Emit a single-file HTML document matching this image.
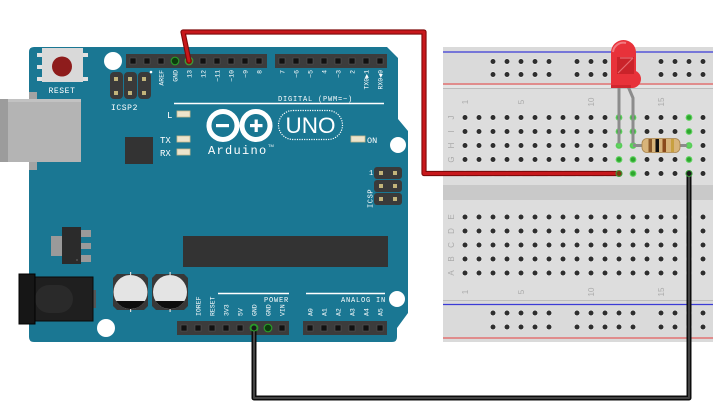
<!DOCTYPE html>
<html><head><meta charset="utf-8">
<style>html,body{margin:0;padding:0;background:#fff;}svg{display:block}</style>
</head><body>
<svg width="713" height="420" viewBox="0 0 713 420" xmlns="http://www.w3.org/2000/svg">
<defs>
<pattern id="hT" x="458" y="110.5" width="14" height="14" patternUnits="userSpaceOnUse"><circle cx="7" cy="7" r="3.1" fill="#ececec"/><circle cx="7" cy="7" r="2.5" fill="#2e2e2e"/></pattern>
<pattern id="hB" x="458" y="210" width="14" height="14" patternUnits="userSpaceOnUse"><circle cx="7" cy="7" r="3.1" fill="#ececec"/><circle cx="7" cy="7" r="2.5" fill="#2e2e2e"/></pattern>
<pattern id="rT" x="486" y="55" width="14" height="13" patternUnits="userSpaceOnUse"><circle cx="7" cy="6.5" r="3.1" fill="#ececec"/><circle cx="7" cy="6.5" r="2.5" fill="#2e2e2e"/></pattern>
<pattern id="rB" x="486" y="306" width="14" height="14" patternUnits="userSpaceOnUse"><circle cx="7" cy="7" r="3.1" fill="#ececec"/><circle cx="7" cy="7" r="2.5" fill="#2e2e2e"/></pattern>
</defs>

<!-- ================= BREADBOARD ================= -->
<rect x="443" y="47" width="270" height="295" fill="#dadada"/>
<line x1="443" y1="52" x2="713" y2="52" stroke="#3b3bd6" stroke-width="1.3"/>
<line x1="443" y1="84" x2="713" y2="84" stroke="#e27272" stroke-width="1.6"/>
<rect x="443" y="85" width="270" height="3" fill="#e4e4e4"/>
<line x1="443" y1="88.5" x2="713" y2="88.5" stroke="#bcbcbc" stroke-width="1"/>
<rect x="443" y="89" width="270" height="96" fill="#dddddd"/>
<rect x="443" y="185" width="270" height="15" fill="#c9c9c9"/>
<rect x="443" y="200" width="270" height="100" fill="#dddddd"/>
<line x1="443" y1="300.5" x2="713" y2="300.5" stroke="#bcbcbc" stroke-width="1"/>
<line x1="443" y1="304.5" x2="713" y2="304.5" stroke="#3b3bd6" stroke-width="1.3"/>
<line x1="443" y1="338" x2="713" y2="338" stroke="#e27272" stroke-width="1.6"/>

<!-- rails holes -->
<rect x="486" y="55" width="70" height="26" fill="url(#rT)"/>
<rect x="570" y="55" width="70" height="26" fill="url(#rT)"/>
<rect x="654" y="55" width="59" height="26" fill="url(#rT)"/>
<rect x="486" y="306" width="70" height="28" fill="url(#rB)"/>
<rect x="570" y="306" width="70" height="28" fill="url(#rB)"/>
<rect x="654" y="306" width="59" height="28" fill="url(#rB)"/>
<!-- main holes -->
<rect x="458" y="110.5" width="252" height="70" fill="url(#hT)"/>
<rect x="458" y="210" width="252" height="70" fill="url(#hB)"/>

<!-- breadboard labels -->
<g font-family="Liberation Sans, sans-serif" font-size="8" fill="#ababab" text-anchor="middle">
<text transform="translate(468,102) rotate(-90)">1</text>
<text transform="translate(524,102) rotate(-90)">5</text>
<text transform="translate(594,102) rotate(-90)">10</text>
<text transform="translate(664,102) rotate(-90)">15</text>
<text transform="translate(468,292) rotate(-90)">1</text>
<text transform="translate(524,292) rotate(-90)">5</text>
<text transform="translate(594,292) rotate(-90)">10</text>
<text transform="translate(664,292) rotate(-90)">15</text>
<text transform="translate(454,117.5) rotate(-90)">J</text>
<text transform="translate(454,131.5) rotate(-90)">I</text>
<text transform="translate(454,145.5) rotate(-90)">H</text>
<text transform="translate(454,159.5) rotate(-90)">G</text>
<text transform="translate(454,173.5) rotate(-90)">F</text>
<text transform="translate(454,217) rotate(-90)">E</text>
<text transform="translate(454,231) rotate(-90)">D</text>
<text transform="translate(454,245) rotate(-90)">C</text>
<text transform="translate(454,259) rotate(-90)">B</text>
<text transform="translate(454,273) rotate(-90)">A</text>
</g>

<!-- green connected holes -->
<g fill="#5fd35f">
<circle cx="619" cy="117.5" r="3.4"/><circle cx="619" cy="131.5" r="3.4"/><circle cx="619" cy="145.5" r="3.4"/><circle cx="619" cy="159.5" r="3.4"/><circle cx="619" cy="173.5" r="3.4"/>
<circle cx="633" cy="117.5" r="3.4"/><circle cx="633" cy="131.5" r="3.4"/><circle cx="633" cy="145.5" r="3.4"/><circle cx="633" cy="159.5" r="3.4"/><circle cx="633" cy="173.5" r="3.4"/>
<circle cx="689" cy="117.5" r="3.4"/><circle cx="689" cy="131.5" r="3.4"/><circle cx="689" cy="145.5" r="3.4"/><circle cx="689" cy="159.5" r="3.4"/><circle cx="689" cy="173.5" r="3.4"/>
</g>
<g fill="#2fa52f">
<circle cx="619" cy="117.5" r="2.3"/><circle cx="619" cy="131.5" r="2.3"/><circle cx="619" cy="145.5" r="2.3"/><circle cx="619" cy="159.5" r="2.3"/><circle cx="619" cy="173.5" r="2.3"/>
<circle cx="633" cy="117.5" r="2.3"/><circle cx="633" cy="131.5" r="2.3"/><circle cx="633" cy="145.5" r="2.3"/><circle cx="633" cy="159.5" r="2.3"/><circle cx="633" cy="173.5" r="2.3"/>
<circle cx="689" cy="117.5" r="2.3"/><circle cx="689" cy="131.5" r="2.3"/><circle cx="689" cy="145.5" r="2.3"/><circle cx="689" cy="159.5" r="2.3"/><circle cx="689" cy="173.5" r="2.3"/>
</g>

<!-- LED legs -->
<path d="M619,84 L619,145.5" stroke="#8c8c8c" stroke-width="3" fill="none"/>
<path d="M627,84 L633,98 L633,145.5" stroke="#8c8c8c" stroke-width="3" fill="none" stroke-linejoin="round"/>
<circle cx="619" cy="145.5" r="2.2" fill="#5fd35f"/>
<circle cx="633" cy="145.5" r="2.2" fill="#5fd35f"/>

<!-- resistor -->
<line x1="633" y1="145.5" x2="689" y2="145.5" stroke="#8c8c8c" stroke-width="3"/>
<circle cx="689" cy="145.5" r="2.2" fill="#5fd35f"/>
<rect x="642" y="138.5" width="38" height="14" rx="5" fill="#d8b47a" stroke="#a9854c" stroke-width="0.8"/>
<rect x="648.5" y="139" width="3.5" height="13" fill="#8b5a2b"/>
<rect x="655.5" y="139" width="3.5" height="13" fill="#111"/>
<rect x="662.5" y="139" width="3.5" height="13" fill="#8b4a1b"/>
<rect x="671" y="139" width="3" height="13" fill="#c8a040"/>

<!-- LED body -->
<path d="M611,87 L611,52.5 A12.5,12.5 0 0 1 636,52.5 L636,72 A8.5,8.5 0 0 1 633,88 L613,88 Z" fill="#e8323a"/>
<ellipse cx="633" cy="79" rx="8" ry="8.5" fill="#e8323a"/>
<path d="M613,52 A10.5,10.5 0 0 1 626,43" stroke="#f27a80" stroke-width="2" fill="none"/>
<rect x="617" y="57" width="17" height="17" fill="#c42128" opacity="0.85"/>
<path d="M618,73 L633,58 M620,58 L633,58" stroke="#e86a70" stroke-width="1.2" fill="none"/>
<rect x="611" y="85" width="20" height="3" fill="#d0262e"/>

<!-- ================= ARDUINO ================= -->
<!-- USB -->
<rect x="29" y="92" width="8" height="78" fill="#a3a3a3"/>
<rect x="0" y="99" width="81" height="63" fill="#b4b4b4"/>
<rect x="0" y="99" width="8" height="63" fill="#9c9c9c"/>
<rect x="8" y="99" width="73" height="3" fill="#c2c2c2"/>

<path d="M29,52 Q29,47 34,47 L387,47 L398,58 L398,119 L408,131 L408,313 L397,328 L397,337 Q397,342 392,342 L34,342 Q29,342 29,337 Z" fill="#1a7793"/>
<!-- USB over board -->
<rect x="29" y="99" width="52" height="63" fill="#b4b4b4"/>
<rect x="29" y="99" width="52" height="3" fill="#c2c2c2"/>
<rect x="29" y="92" width="8" height="7" fill="#a3a3a3"/>
<rect x="29" y="162" width="8" height="8" fill="#a3a3a3"/>

<!-- reset button -->
<g fill="#e2e2e2">
<rect x="37" y="53" width="6" height="4"/><rect x="37" y="65" width="6" height="4"/><rect x="37" y="77" width="6" height="4"/>
<rect x="82" y="53" width="6" height="4"/><rect x="82" y="77" width="6" height="4"/>
</g>
<rect x="42" y="48" width="41" height="34" fill="#d9d9d9"/>
<circle cx="62" cy="66.5" r="10" fill="#8e1c1c"/>
<g font-family="Liberation Mono, monospace" fill="#fff">
<text x="62" y="93" font-size="8" text-anchor="middle" letter-spacing="0.6">RESET</text>
<text x="124.5" y="110" font-size="8" text-anchor="middle" letter-spacing="0.6">ICSP2</text>
</g>

<!-- holes -->
<circle cx="113" cy="61" r="9" fill="#fff"/>
<circle cx="398" cy="145" r="8" fill="#fff"/>
<circle cx="106" cy="328" r="9" fill="#fff"/>
<circle cx="397" cy="299" r="8" fill="#fff"/>

<!-- ICSP2 -->
<g fill="#3a3a3a">
<rect x="110" y="72" width="13" height="27" rx="4"/><rect x="124" y="72" width="13" height="27" rx="4"/><rect x="138" y="72" width="13" height="27" rx="4"/>
</g>
<g fill="#c2b47a">
<rect x="114" y="77" width="4" height="4"/><rect x="128" y="77" width="4" height="4"/><rect x="142" y="77" width="4" height="4"/>
<rect x="114" y="91" width="4" height="4"/><rect x="128" y="91" width="4" height="4"/><rect x="142" y="91" width="4" height="4"/>
</g>
<circle cx="151" cy="72" r="1.3" fill="#fff"/>

<!-- top headers -->
<rect x="126" y="54" width="141" height="14" fill="#3c3c3c"/>
<rect x="275" y="54" width="112" height="14" fill="#3c3c3c"/>
<g fill="#111" stroke="#555" stroke-width="0.6">
<rect x="130" y="58" width="6" height="6"/><rect x="144" y="58" width="6" height="6"/><rect x="158" y="58" width="6" height="6"/>
<rect x="200" y="58" width="6" height="6"/><rect x="214" y="58" width="6" height="6"/><rect x="228" y="58" width="6" height="6"/><rect x="242" y="58" width="6" height="6"/><rect x="256" y="58" width="6" height="6"/>
<rect x="279" y="58" width="6" height="6"/><rect x="293" y="58" width="6" height="6"/><rect x="307" y="58" width="6" height="6"/><rect x="321" y="58" width="6" height="6"/><rect x="335" y="58" width="6" height="6"/><rect x="349" y="58" width="6" height="6"/><rect x="363" y="58" width="6" height="6"/><rect x="377" y="58" width="6" height="6"/>
</g>
<circle cx="175" cy="61" r="3.8" fill="#0d3d0d" stroke="#2a9a2a" stroke-width="1.2"/>
<circle cx="189" cy="61" r="3.8" fill="#7a3a10" stroke="#3aa03a" stroke-width="1.2"/>

<!-- top header labels -->
<g font-family="Liberation Mono, monospace" font-size="6.5" fill="#fff" text-anchor="end">
<text transform="translate(163.3,70) rotate(-90)">AREF</text>
<text transform="translate(177.3,70) rotate(-90)">GND</text>
<text transform="translate(191.3,70) rotate(-90)">13</text>
<text transform="translate(205.3,70) rotate(-90)">12</text>
<text transform="translate(219.3,70) rotate(-90)">~11</text>
<text transform="translate(233.3,70) rotate(-90)">~10</text>
<text transform="translate(247.3,70) rotate(-90)">~9</text>
<text transform="translate(261.3,70) rotate(-90)">8</text>
<text transform="translate(284.3,70) rotate(-90)">7</text>
<text transform="translate(298.3,70) rotate(-90)">~6</text>
<text transform="translate(312.3,70) rotate(-90)">~5</text>
<text transform="translate(326.3,70) rotate(-90)">4</text>
<text transform="translate(340.3,70) rotate(-90)">~3</text>
<text transform="translate(354.3,70) rotate(-90)">2</text>
<text transform="translate(368.3,70) rotate(-90)">TX0▶1</text>
<text transform="translate(382.3,70) rotate(-90)">RX0◀0</text>
</g>
<text x="278" y="101" font-family="Liberation Mono, monospace" font-size="7" fill="#fff" letter-spacing="0.8">DIGITAL (PWM=~)</text>
<line x1="174" y1="103.5" x2="384" y2="103.5" stroke="#fff" stroke-width="1.5"/>

<!-- L TX RX LEDs -->
<g fill="#ece4cc" stroke="#c9b98e" stroke-width="0.8">
<rect x="177" y="111" width="13" height="6"/>
<rect x="177" y="136" width="13" height="6"/>
<rect x="177" y="149" width="13" height="6"/>
<rect x="351" y="136" width="14" height="6"/>
</g>
<g font-family="Liberation Mono, monospace" font-size="9" fill="#fff">
<text x="167" y="118">L</text>
<text x="160" y="143">TX</text>
<text x="160" y="156">RX</text>
<text x="367" y="143" font-size="8.5">ON</text>
</g>

<!-- chip small -->
<rect x="125" y="137" width="28" height="27" fill="#333"/>

<!-- Arduino logo -->
<circle cx="223" cy="125.5" r="14" stroke="#fff" stroke-width="5" fill="none"/>
<circle cx="256" cy="125.5" r="14" stroke="#fff" stroke-width="5" fill="none"/>
<rect x="216" y="124" width="13" height="3.2" fill="#fff"/>
<rect x="250" y="124" width="12.5" height="3.2" fill="#fff"/>
<rect x="254.6" y="119.5" width="3.2" height="12.5" fill="#fff"/>
<text x="208" y="154" font-family="Liberation Mono, monospace" font-size="12" fill="#fff" letter-spacing="1.3">Arduino</text>
<text x="268" y="147" font-family="Liberation Sans, sans-serif" font-size="4" fill="#fff">TM</text>

<!-- UNO -->
<rect x="278.5" y="110.5" width="64" height="29" rx="14.5" fill="none" stroke="#fff" stroke-width="1.2" stroke-dasharray="1.2 1.2"/>
<text x="310.5" y="133" font-family="Liberation Sans, sans-serif" font-size="22" fill="#fff" text-anchor="middle" textLength="50" lengthAdjust="spacingAndGlyphs">UNO</text>

<!-- ICSP right -->
<rect x="374" y="167" width="28" height="12" rx="3" fill="#3a3a3a"/>
<rect x="374" y="180" width="28" height="12" rx="3" fill="#3a3a3a"/>
<rect x="374" y="193" width="28" height="12" rx="3" fill="#3a3a3a"/>
<g fill="#c2b47a">
<rect x="379" y="171" width="4" height="4"/><rect x="393" y="171" width="4" height="4"/>
<rect x="379" y="184" width="4" height="4"/><rect x="393" y="184" width="4" height="4"/>
<rect x="379" y="197" width="4" height="4"/><rect x="393" y="197" width="4" height="4"/>
</g>
<text x="369" y="175" font-family="Liberation Mono, monospace" font-size="7" fill="#fff">1</text>
<text transform="translate(372.5,208) rotate(-90)" font-family="Liberation Mono, monospace" font-size="7" fill="#fff" letter-spacing="0.6">ICSP</text>

<!-- big chip -->
<rect x="183" y="236" width="205" height="31" fill="#333"/>

<!-- regulator -->
<rect x="51" y="236" width="11" height="20" fill="#9a9a9a"/>
<g fill="#9a9a9a">
<rect x="81" y="230" width="10" height="7"/><rect x="81" y="243" width="10" height="6"/><rect x="81" y="255" width="10" height="7"/>
</g>
<rect x="62" y="227" width="19" height="37" fill="#2b2b2b"/>
<circle cx="77" cy="260" r="1" fill="#555"/>

<!-- power jack -->
<rect x="92" y="290" width="4" height="18" fill="#555"/>
<rect x="35" y="277" width="58" height="44" fill="#1f1f1f" stroke="#0a0a0a" stroke-width="1"/>
<rect x="35" y="285" width="38" height="28" rx="14" fill="#2a2a2a"/>
<rect x="19" y="274" width="16" height="50" fill="#161616" stroke="#000" stroke-width="1"/>

<!-- capacitors -->
<polygon points="117,274 144,274 148,278 148,306 144,310 117,310 113,306 113,278" fill="#383838"/>
<polygon points="156,274 184,274 188,278 188,306 184,310 156,310 152,306 152,278" fill="#383838"/>
<circle cx="130.5" cy="292" r="17" fill="#e4e4e4"/>
<circle cx="170" cy="292" r="17" fill="#e4e4e4"/>
<path d="M116.1,301 A17,17 0 0 0 144.9,301 Z" fill="#0e0e0e"/>
<path d="M155.6,301 A17,17 0 0 0 184.4,301 Z" fill="#0e0e0e"/>
<g fill="#ddd"><rect x="130" y="272" width="1.2" height="3"/><rect x="169.5" y="272" width="1.2" height="3"/><rect x="130" y="309" width="1.2" height="3"/><rect x="169.5" y="309" width="1.2" height="3"/></g>

<!-- bottom header lines & labels -->
<line x1="218" y1="293.5" x2="289" y2="293.5" stroke="#fff" stroke-width="1.5"/>
<line x1="306" y1="293.5" x2="385" y2="293.5" stroke="#fff" stroke-width="1.5"/>
<g font-family="Liberation Mono, monospace" font-size="7" fill="#fff" letter-spacing="0.8">
<text x="289" y="302" text-anchor="end">POWER</text>
<text x="386" y="302" text-anchor="end">ANALOG IN</text>
</g>
<g font-family="Liberation Mono, monospace" font-size="6.5" fill="#fff">
<text transform="translate(200.3,316) rotate(-90)">IOREF</text>
<text transform="translate(214.3,316) rotate(-90)">RESET</text>
<text transform="translate(228.3,316) rotate(-90)">3V3</text>
<text transform="translate(242.3,316) rotate(-90)">5V</text>
<text transform="translate(256.3,316) rotate(-90)">GND</text>
<text transform="translate(270.3,316) rotate(-90)">GND</text>
<text transform="translate(284.3,316) rotate(-90)">VIN</text>
<text transform="translate(312.3,316) rotate(-90)">A0</text>
<text transform="translate(326.3,316) rotate(-90)">A1</text>
<text transform="translate(340.3,316) rotate(-90)">A2</text>
<text transform="translate(354.3,316) rotate(-90)">A3</text>
<text transform="translate(368.3,316) rotate(-90)">A4</text>
<text transform="translate(382.3,316) rotate(-90)">A5</text>
</g>

<!-- bottom headers -->
<rect x="177" y="321" width="112" height="14" fill="#3c3c3c"/>
<rect x="303" y="321" width="84" height="14" fill="#3c3c3c"/>
<g fill="#111" stroke="#555" stroke-width="0.6">
<rect x="181" y="325" width="6" height="6"/><rect x="195" y="325" width="6" height="6"/><rect x="209" y="325" width="6" height="6"/><rect x="223" y="325" width="6" height="6"/><rect x="237" y="325" width="6" height="6"/><rect x="279" y="325" width="6" height="6"/>
<rect x="307" y="325" width="6" height="6"/><rect x="321" y="325" width="6" height="6"/><rect x="335" y="325" width="6" height="6"/><rect x="349" y="325" width="6" height="6"/><rect x="363" y="325" width="6" height="6"/><rect x="377" y="325" width="6" height="6"/>
</g>
<circle cx="254" cy="328" r="3.8" fill="#1a1a1a" stroke="#2a9a2a" stroke-width="1.2"/>
<circle cx="268" cy="328" r="3.8" fill="#0d3d0d" stroke="#2a9a2a" stroke-width="1.2"/>

<!-- ================= WIRES ================= -->
<path d="M189,61 L183,32 L424,32 L424,173.5 L619,173.5" stroke="#7e0a0a" stroke-width="5.2" fill="none" stroke-linejoin="round" stroke-linecap="round"/>
<path d="M189,61 L183,32 L424,32 L424,173.5 L619,173.5" stroke="#c8181c" stroke-width="3" fill="none" stroke-linejoin="round" stroke-linecap="round"/>
<circle cx="619" cy="173.5" r="3" fill="#7a3a10" stroke="#3aa03a" stroke-width="1"/>

<path d="M689,173.5 L689,398 L254,398 L254,328" stroke="#0c0c0c" stroke-width="5" fill="none" stroke-linejoin="round" stroke-linecap="round"/>
<path d="M689,173.5 L689,398 L254,398 L254,328" stroke="#444" stroke-width="2" fill="none" stroke-linejoin="round" stroke-linecap="round"/>
<circle cx="689" cy="173.5" r="3" fill="#1a1a1a" stroke="#3aa03a" stroke-width="1"/>
<circle cx="254" cy="328" r="3" fill="#1a1a1a" stroke="#2a9a2a" stroke-width="1"/>
</svg>
</body></html>
